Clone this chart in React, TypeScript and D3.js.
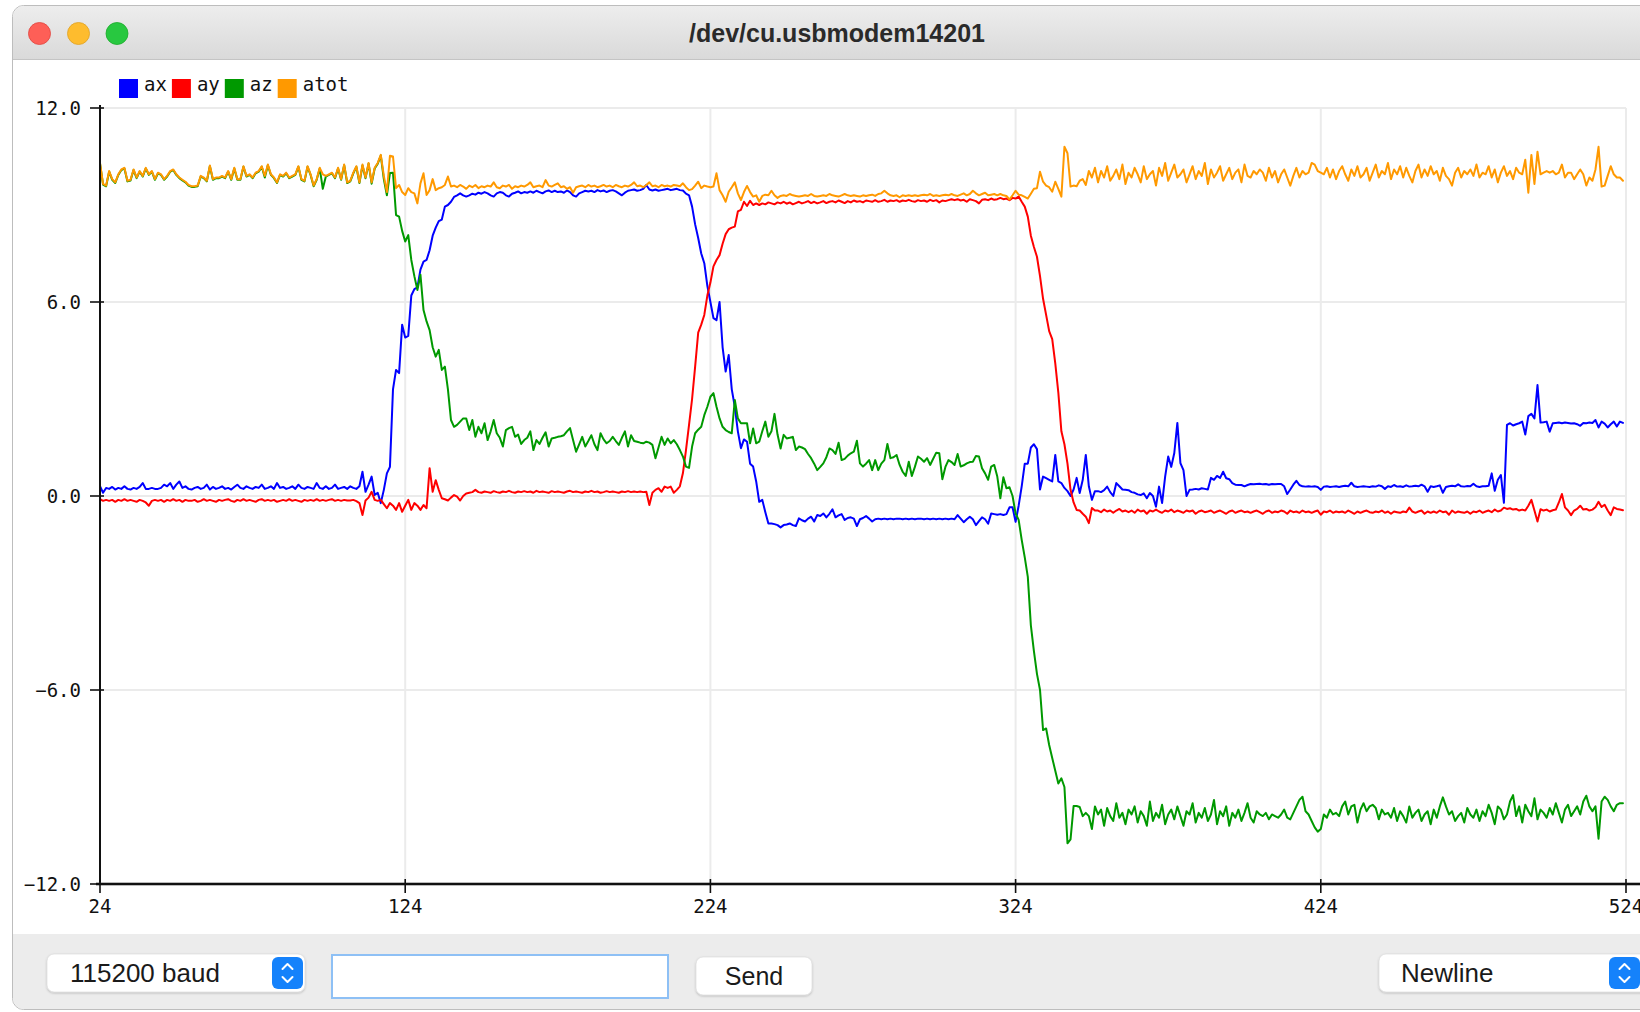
import React from 'react';
import * as d3 from 'd3';

// ---- data (sample index starts at 24, one value per sample) ----
const X_START = 24;
const X_TICKS = [24, 124, 224, 324, 424, 524];
const Y_TICKS = [12, 6, 0, -6, -12];
const SERIES_NAMES = ['ax', 'ay', 'az', 'atot'];
const TITLE = '/dev/cu.usbmodem14201';
const BAUD_LABEL = '115200 baud';
const SEND_LABEL = 'Send';
const LINE_ENDING_LABEL = 'Newline';

const AX = [
  0.30, 0.10, 0.25, 0.22, 0.28, 0.20, 0.25, 0.22, 0.30, 0.22,
  0.20, 0.25, 0.22, 0.28, 0.40, 0.22, 0.22, 0.25, 0.22, 0.22,
  0.25, 0.35, 0.30, 0.40, 0.22, 0.35, 0.45, 0.25, 0.30, 0.22,
  0.20, 0.25, 0.28, 0.22, 0.25, 0.35, 0.20, 0.28, 0.22, 0.25,
  0.30, 0.22, 0.25, 0.20, 0.28, 0.35, 0.25, 0.22, 0.30, 0.25,
  0.22, 0.28, 0.25, 0.35, 0.22, 0.25, 0.30, 0.22, 0.40, 0.25,
  0.28, 0.22, 0.25, 0.30, 0.22, 0.35, 0.25, 0.22, 0.28, 0.25,
  0.22, 0.40, 0.25, 0.22, 0.30, 0.22, 0.25, 0.35, 0.22, 0.25,
  0.28, 0.22, 0.30, 0.25, 0.22, 0.30, 0.75, 0.13, 0.35, 0.60,
  0.03, 0.10, -0.22, 0.19, 0.70, 0.90, 3.30, 3.90, 3.80, 5.30,
  4.90, 4.95, 6.20, 6.40, 6.45, 7.00, 7.25, 7.30, 7.60, 8.05,
  8.30, 8.50, 8.55, 8.95, 9.00, 9.10, 9.25, 9.30, 9.36, 9.30,
  9.26, 9.30, 9.35, 9.32, 9.38, 9.35, 9.40, 9.36, 9.30, 9.26,
  9.36, 9.40, 9.38, 9.30, 9.26, 9.35, 9.38, 9.42, 9.36, 9.40,
  9.38, 9.42, 9.38, 9.44, 9.40, 9.36, 9.42, 9.45, 9.40, 9.44,
  9.40, 9.42, 9.38, 9.45, 9.40, 9.30, 9.26, 9.36, 9.40, 9.44,
  9.42, 9.44, 9.40, 9.46, 9.42, 9.45, 9.40, 9.44, 9.46, 9.42,
  9.36, 9.30, 9.38, 9.44, 9.46, 9.48, 9.44, 9.46, 9.50, 9.62,
  9.48, 9.45, 9.48, 9.44, 9.46, 9.48, 9.50, 9.46, 9.48, 9.50,
  9.46, 9.45, 9.35, 9.30, 8.95, 8.40, 7.98, 7.50, 7.20, 6.50,
  6.00, 5.50, 5.44, 6.00, 4.60, 3.85, 4.36, 3.30, 2.76, 2.00,
  1.48, 1.75, 1.68, 1.00, 0.91, 0.45, -0.18, -0.12, -0.50, -0.85,
  -0.85, -0.87, -0.90, -0.97, -0.90, -0.88, -0.85, -0.90, -0.93, -0.69,
  -0.75, -0.79, -0.70, -0.64, -0.79, -0.59, -0.62, -0.54, -0.66, -0.55,
  -0.41, -0.66, -0.60, -0.56, -0.74, -0.68, -0.66, -0.70, -0.93, -0.72,
  -0.68, -0.62, -0.70, -0.79, -0.72, -0.70, -0.72, -0.70, -0.72, -0.70,
  -0.72, -0.70, -0.70, -0.72, -0.70, -0.72, -0.70, -0.72, -0.70, -0.70,
  -0.72, -0.70, -0.72, -0.70, -0.72, -0.70, -0.72, -0.70, -0.72, -0.70,
  -0.72, -0.59, -0.70, -0.81, -0.72, -0.64, -0.72, -0.90, -0.78, -0.66,
  -0.72, -0.86, -0.54, -0.56, -0.58, -0.56, -0.59, -0.56, -0.35, -0.35,
  -0.80, -0.30, 0.30, 1.00, 1.00, 1.50, 1.60, 1.45, 0.20, 0.60,
  0.55, 0.50, 0.45, 1.27, 0.45, 0.40, 0.25, 0.15, 0.00, 0.20,
  0.56, 0.09, 0.50, 1.27, 0.30, -0.12, 0.15, 0.15, 0.12, 0.18,
  0.29, 0.12, 0.00, 0.40, 0.30, 0.20, 0.19, 0.18, 0.12, 0.10,
  0.05, 0.03, 0.08, -0.07, 0.09, 0.00, -0.33, 0.29, -0.22, 0.60,
  1.22, 0.90, 1.33, 2.26, 1.02, 0.80, 0.00, 0.19, 0.20, 0.22,
  0.20, 0.24, 0.22, 0.20, 0.56, 0.50, 0.62, 0.56, 0.75, 0.55,
  0.52, 0.40, 0.35, 0.34, 0.34, 0.30, 0.34, 0.37, 0.36, 0.37,
  0.38, 0.36, 0.37, 0.35, 0.37, 0.36, 0.37, 0.37, 0.30, 0.06,
  0.20, 0.35, 0.47, 0.34, 0.30, 0.29, 0.30, 0.29, 0.30, 0.28,
  0.19, 0.29, 0.30, 0.28, 0.29, 0.30, 0.28, 0.30, 0.32, 0.30,
  0.41, 0.30, 0.28, 0.29, 0.30, 0.29, 0.28, 0.30, 0.29, 0.33,
  0.30, 0.22, 0.30, 0.28, 0.34, 0.29, 0.30, 0.28, 0.33, 0.29,
  0.30, 0.32, 0.30, 0.35, 0.30, 0.13, 0.30, 0.28, 0.30, 0.33,
  0.10, 0.28, 0.30, 0.32, 0.30, 0.36, 0.30, 0.29, 0.31, 0.30,
  0.38, 0.30, 0.28, 0.30, 0.30, 0.32, 0.70, 0.16, 0.50, 0.65,
  -0.21, 2.20, 2.25, 2.18, 2.22, 2.25, 2.30, 1.90, 2.47, 2.54,
  2.40, 3.43, 2.27, 2.28, 2.30, 1.99, 2.25, 2.26, 2.27, 2.25,
  2.27, 2.26, 2.24, 2.25, 2.22, 2.17, 2.26, 2.25, 2.27, 2.26,
  2.35, 2.12, 2.30, 2.24, 2.12, 2.22, 2.30, 2.15, 2.30, 2.26,
];

const AY = [
  -0.10, -0.15, -0.12, -0.15, -0.12, -0.18, -0.12, -0.15, -0.10, -0.15,
  -0.12, -0.15, -0.18, -0.12, -0.15, -0.20, -0.30, -0.15, -0.12, -0.15,
  -0.12, -0.18, -0.12, -0.15, -0.10, -0.15, -0.12, -0.18, -0.12, -0.15,
  -0.15, -0.12, -0.18, -0.15, -0.10, -0.15, -0.12, -0.15, -0.18, -0.12,
  -0.15, -0.12, -0.10, -0.15, -0.18, -0.12, -0.15, -0.10, -0.15, -0.12,
  -0.15, -0.18, -0.12, -0.10, -0.15, -0.12, -0.15, -0.12, -0.18, -0.15,
  -0.12, -0.15, -0.10, -0.15, -0.12, -0.15, -0.18, -0.12, -0.15, -0.12,
  -0.15, -0.10, -0.15, -0.12, -0.15, -0.12, -0.10, -0.15, -0.12, -0.15,
  -0.12, -0.14, -0.14, -0.12, -0.16, -0.22, -0.59, -0.14, -0.05, 0.13,
  -0.12, -0.15, -0.12, -0.25, -0.38, -0.22, -0.30, -0.43, -0.22, -0.49,
  -0.30, -0.12, -0.43, -0.22, -0.30, -0.43, -0.28, -0.38, 0.86, 0.13,
  0.49, 0.19, -0.07, -0.10, -0.14, -0.05, 0.03, -0.02, -0.14, 0.00,
  0.08, 0.10, 0.12, 0.19, 0.12, 0.10, 0.14, 0.12, 0.10, 0.15,
  0.12, 0.10, 0.14, 0.12, 0.16, 0.12, 0.10, 0.14, 0.12, 0.15,
  0.12, 0.14, 0.10, 0.16, 0.12, 0.14, 0.12, 0.10, 0.15, 0.12,
  0.14, 0.12, 0.10, 0.14, 0.16, 0.12, 0.14, 0.12, 0.10, 0.14,
  0.12, 0.16, 0.12, 0.14, 0.10, 0.12, 0.15, 0.12, 0.14, 0.12,
  0.10, 0.14, 0.12, 0.15, 0.12, 0.14, 0.12, 0.14, 0.12, 0.13,
  -0.28, 0.10, 0.19, 0.24, 0.13, 0.29, 0.25, 0.29, 0.10, 0.19,
  0.30, 0.71, 1.42, 2.20, 3.00, 4.00, 5.05, 5.30, 5.60, 6.20,
  6.60, 7.10, 7.30, 7.45, 7.80, 8.10, 8.25, 8.30, 8.33, 8.80,
  8.85, 9.10, 8.97, 9.13, 9.00, 9.05, 9.00, 9.05, 9.02, 9.08,
  9.05, 9.02, 9.08, 9.05, 9.10, 9.04, 9.08, 9.02, 9.06, 9.10,
  9.05, 9.08, 9.12, 9.06, 9.10, 9.05, 9.08, 9.12, 9.06, 9.10,
  9.12, 9.08, 9.14, 9.10, 9.06, 9.12, 9.08, 9.14, 9.10, 9.12,
  9.08, 9.14, 9.12, 9.10, 9.15, 9.10, 9.12, 9.16, 9.10, 9.14,
  9.12, 9.15, 9.10, 9.14, 9.12, 9.16, 9.12, 9.10, 9.15, 9.12,
  9.14, 9.10, 9.16, 9.12, 9.15, 9.08, 9.14, 9.12, 9.15, 9.18,
  9.15, 9.18, 9.14, 9.16, 9.10, 9.18, 9.15, 9.12, 9.05, 9.16,
  9.18, 9.15, 9.20, 9.16, 9.18, 9.22, 9.18, 9.20, 9.15, 9.22,
  9.20, 9.26, 9.10, 8.95, 8.64, 8.05, 7.70, 7.40, 6.80, 6.10,
  5.60, 5.10, 4.85, 4.10, 3.20, 2.00, 1.60, 1.00, 0.19, -0.20,
  -0.43, -0.45, -0.55, -0.64, -0.84, -0.37, -0.45, -0.45, -0.50, -0.42,
  -0.48, -0.45, -0.52, -0.45, -0.40, -0.48, -0.45, -0.50, -0.45, -0.52,
  -0.42, -0.48, -0.45, -0.55, -0.45, -0.48, -0.42, -0.48, -0.52, -0.45,
  -0.48, -0.42, -0.50, -0.45, -0.48, -0.52, -0.45, -0.48, -0.45, -0.55,
  -0.48, -0.45, -0.50, -0.48, -0.45, -0.52, -0.48, -0.45, -0.50, -0.55,
  -0.48, -0.45, -0.52, -0.48, -0.45, -0.50, -0.48, -0.52, -0.48, -0.45,
  -0.50, -0.55, -0.48, -0.45, -0.52, -0.48, -0.50, -0.45, -0.48, -0.55,
  -0.45, -0.50, -0.48, -0.52, -0.45, -0.50, -0.48, -0.52, -0.48, -0.45,
  -0.58, -0.48, -0.50, -0.45, -0.52, -0.48, -0.50, -0.48, -0.52, -0.45,
  -0.50, -0.55, -0.48, -0.52, -0.48, -0.45, -0.50, -0.52, -0.48, -0.50,
  -0.45, -0.52, -0.48, -0.55, -0.48, -0.50, -0.52, -0.48, -0.50, -0.36,
  -0.48, -0.52, -0.48, -0.45, -0.55, -0.48, -0.52, -0.48, -0.52, -0.45,
  -0.50, -0.48, -0.58, -0.45, -0.52, -0.48, -0.50, -0.52, -0.48, -0.55,
  -0.48, -0.50, -0.45, -0.52, -0.48, -0.45, -0.50, -0.42, -0.48, -0.45,
  -0.36, -0.40, -0.38, -0.42, -0.40, -0.45, -0.42, -0.45, -0.30, -0.12,
  -0.45, -0.79, -0.41, -0.45, -0.42, -0.48, -0.44, -0.42, -0.20, 0.06,
  -0.35, -0.45, -0.59, -0.45, -0.40, -0.30, -0.42, -0.40, -0.45, -0.42,
  -0.35, -0.18, -0.34, -0.27, -0.45, -0.59, -0.35, -0.40, -0.42, -0.44,
];

const AZ = [
  10.28, 9.63, 9.58, 10.03, 9.78, 9.68, 9.93, 10.08, 10.13, 9.73,
  9.76, 10.08, 9.83, 10.03, 9.88, 10.13, 9.93, 10.03, 9.78, 9.98,
  9.93, 9.78, 9.88, 10.03, 10.08, 9.93, 9.83, 9.76, 9.70, 9.60,
  9.56, 9.56, 9.58, 9.88, 9.83, 9.73, 10.20, 9.78, 9.83, 9.83,
  9.88, 9.83, 10.03, 9.78, 10.13, 9.78, 9.78, 10.18, 9.88, 9.93,
  9.83, 9.98, 10.03, 10.18, 9.85, 10.23, 9.93, 9.83, 9.68, 9.93,
  9.88, 9.98, 9.83, 9.88, 9.93, 10.18, 9.78, 9.73, 10.18, 9.93,
  9.58, 9.78, 10.13, 9.50, 9.88, 9.93, 9.98, 9.83, 10.13, 9.78,
  10.23, 9.68, 9.73, 9.98, 10.18, 9.68, 10.22, 9.83, 10.28, 9.66,
  10.13, 10.28, 10.53, 9.80, 9.30, 9.99, 10.00, 8.69, 8.64, 8.20,
  7.87, 8.07, 7.30, 6.80, 6.37, 6.84, 5.75, 5.40, 5.13, 4.60,
  4.31, 4.52, 3.90, 4.00, 3.30, 2.35, 2.14, 2.20, 2.30, 2.40,
  2.40, 2.04, 2.35, 1.83, 2.14, 1.94, 2.25, 1.73, 2.00, 2.35,
  1.94, 1.80, 1.53, 2.04, 2.10, 2.14, 1.83, 1.90, 1.61, 1.73,
  1.80, 2.00, 1.42, 1.73, 1.61, 1.80, 1.97, 1.53, 1.78, 1.80,
  1.83, 1.85, 1.88, 2.00, 2.10, 1.73, 1.37, 1.60, 1.83, 1.53,
  1.70, 1.88, 1.60, 1.42, 1.94, 1.75, 1.63, 1.70, 1.83, 1.70,
  1.58, 1.80, 2.00, 1.53, 1.88, 1.70, 1.68, 1.65, 1.63, 1.68,
  1.65, 1.58, 1.17, 1.50, 1.83, 1.58, 1.78, 1.63, 1.73, 1.60,
  1.42, 1.22, 0.91, 0.87, 1.53, 1.94, 2.05, 2.14, 2.50, 2.76,
  3.07, 3.18, 2.76, 2.40, 2.14, 2.04, 1.98, 1.94, 2.97, 2.40,
  2.25, 2.25, 2.25, 1.63, 2.09, 1.63, 1.68, 2.00, 2.30, 1.83,
  2.00, 2.54, 1.90, 1.47, 1.89, 1.78, 1.80, 1.83, 1.42, 1.53,
  1.50, 1.45, 1.30, 1.17, 1.00, 0.80, 0.90, 1.01, 1.20, 1.47,
  1.42, 1.30, 1.65, 1.11, 1.15, 1.25, 1.32, 1.37, 1.71, 1.01,
  0.91, 1.00, 1.11, 0.80, 1.11, 0.80, 1.00, 1.11, 1.61, 1.17,
  1.20, 1.27, 0.96, 0.75, 0.62, 1.06, 0.62, 0.90, 1.22, 1.15,
  1.06, 1.17, 0.96, 1.15, 1.34, 1.32, 0.52, 0.90, 1.11, 1.05,
  0.96, 1.30, 0.91, 0.95, 1.01, 1.05, 1.06, 1.24, 1.22, 0.86,
  0.70, 0.50, 0.91, 0.96, 0.60, -0.07, 0.58, 0.24, 0.27, 0.00,
  -0.54, -0.74, -1.36, -1.90, -2.50, -4.00, -4.80, -5.50, -6.00, -7.24,
  -7.19, -7.70, -8.10, -8.50, -8.89, -8.73, -9.00, -10.74, -10.62, -9.59,
  -9.59, -9.62, -9.90, -9.80, -9.90, -10.30, -9.60, -9.85, -9.70, -10.20,
  -9.65, -9.90, -10.05, -9.50, -9.95, -9.80, -10.15, -9.70, -9.85, -9.60,
  -10.10, -9.75, -9.90, -10.20, -9.45, -10.05, -9.80, -9.95, -9.55, -10.15,
  -9.85, -9.70, -10.00, -9.60, -9.90, -10.20, -9.75, -9.85, -9.50, -10.10,
  -9.80, -9.95, -9.65, -10.05, -9.85, -9.40, -10.15, -9.75, -9.90, -9.60,
  -10.20, -9.80, -9.95, -9.70, -10.05, -9.80, -9.50, -9.95, -10.10, -9.75,
  -9.85, -9.90, -9.80, -10.00, -9.85, -9.90, -9.95, -9.85, -9.70, -9.95,
  -10.00, -9.80, -9.60, -9.40, -9.30, -9.75, -9.85, -10.05, -10.25, -10.38,
  -10.30, -9.85, -9.95, -9.70, -9.85, -9.80, -9.90, -9.60, -9.45, -9.85,
  -9.60, -9.55, -10.10, -9.70, -9.50, -9.75, -9.60, -9.55, -9.65, -10.00,
  -9.70, -9.85, -9.80, -9.95, -9.65, -10.05, -9.75, -9.90, -10.10, -9.60,
  -9.95, -9.80, -9.70, -10.05, -9.85, -9.75, -10.15, -9.70, -9.95, -9.60,
  -9.32, -9.60, -9.85, -9.75, -10.05, -9.90, -9.80, -10.10, -9.65, -9.85,
  -9.95, -9.70, -10.05, -9.75, -9.90, -9.55, -9.80, -10.15, -9.60, -9.70,
  -10.00, -9.85, -9.45, -9.25, -9.90, -9.60, -10.10, -9.55, -9.75, -9.90,
  -9.35, -10.00, -9.70, -9.80, -9.95, -9.65, -9.85, -9.50, -9.80, -10.10,
  -9.70, -9.55, -9.90, -9.75, -9.60, -9.85, -9.45, -9.27, -9.60, -9.75,
  -9.60, -10.60, -9.45, -9.30, -9.40, -9.60, -9.75, -9.55, -9.50, -9.50,
];

const ATOT = [
  10.30, 9.65, 9.60, 10.05, 9.80, 9.70, 9.95, 10.10, 10.15, 9.75,
  9.78, 10.10, 9.85, 10.05, 9.90, 10.15, 9.95, 10.05, 9.80, 10.00,
  9.95, 9.80, 9.90, 10.05, 10.10, 9.95, 9.85, 9.78, 9.72, 9.62,
  9.58, 9.58, 9.60, 9.90, 9.85, 9.75, 10.22, 9.80, 9.85, 9.85,
  9.90, 9.85, 10.05, 9.80, 10.15, 9.80, 9.80, 10.20, 9.90, 9.95,
  9.85, 10.00, 10.05, 10.20, 9.90, 10.25, 9.95, 9.85, 9.70, 9.95,
  9.90, 10.00, 9.85, 9.90, 9.95, 10.20, 9.80, 9.75, 10.20, 9.95,
  9.60, 9.80, 10.15, 9.95, 9.90, 9.95, 10.00, 9.85, 10.15, 9.80,
  10.25, 9.70, 9.75, 10.00, 10.20, 9.70, 10.25, 9.85, 10.30, 9.70,
  10.15, 10.30, 10.55, 9.90, 9.40, 10.52, 10.50, 9.52, 9.62, 9.40,
  9.31, 9.52, 9.40, 9.36, 9.05, 9.67, 9.98, 9.31, 9.46, 9.80,
  9.46, 9.52, 9.55, 9.62, 9.88, 9.57, 9.60, 9.55, 9.62, 9.57,
  9.50, 9.60, 9.55, 9.62, 9.52, 9.58, 9.55, 9.60, 9.57, 9.70,
  9.55, 9.52, 9.60, 9.57, 9.62, 9.50, 9.58, 9.55, 9.60, 9.57,
  9.62, 9.70, 9.55, 9.58, 9.60, 9.55, 9.77, 9.60, 9.57, 9.62,
  9.67, 9.55, 9.58, 9.50, 9.55, 9.38, 9.55, 9.58, 9.60, 9.55,
  9.62, 9.57, 9.60, 9.55, 9.58, 9.62, 9.57, 9.60, 9.55, 9.62,
  9.58, 9.55, 9.60, 9.57, 9.62, 9.70, 9.58, 9.60, 9.55, 9.62,
  9.70, 9.58, 9.60, 9.55, 9.62, 9.58, 9.60, 9.57, 9.62, 9.60,
  9.58, 9.67, 9.55, 9.46, 9.49, 9.60, 9.72, 9.52, 9.60, 9.57,
  9.55, 9.57, 9.98, 9.46, 9.30, 9.10, 9.41, 9.55, 9.70, 9.36,
  9.15, 9.40, 9.59, 9.40, 9.26, 9.30, 9.10, 9.28, 9.32, 9.30,
  9.44, 9.30, 9.22, 9.28, 9.30, 9.28, 9.34, 9.30, 9.28, 9.26,
  9.28, 9.30, 9.28, 9.34, 9.28, 9.26, 9.28, 9.30, 9.28, 9.34,
  9.30, 9.28, 9.26, 9.30, 9.34, 9.30, 9.28, 9.30, 9.28, 9.26,
  9.30, 9.28, 9.30, 9.32, 9.28, 9.34, 9.36, 9.44, 9.36, 9.30,
  9.28, 9.30, 9.24, 9.30, 9.28, 9.30, 9.28, 9.30, 9.28, 9.30,
  9.32, 9.30, 9.34, 9.28, 9.30, 9.28, 9.30, 9.32, 9.30, 9.34,
  9.30, 9.28, 9.32, 9.36, 9.30, 9.34, 9.44, 9.36, 9.30, 9.34,
  9.38, 9.30, 9.32, 9.34, 9.30, 9.34, 9.30, 9.28, 9.17, 9.30,
  9.44, 9.32, 9.30, 9.25, 9.20, 9.35, 9.50, 9.52, 10.03, 9.72,
  9.60, 9.55, 9.41, 9.72, 9.50, 9.26, 10.80, 10.60, 9.57, 9.60,
  9.58, 9.75, 9.80, 9.62, 10.05, 9.85, 10.15, 9.70, 10.05, 9.85,
  10.20, 9.75, 9.90, 10.10, 9.80, 10.25, 9.65, 10.00, 9.85, 10.15,
  9.95, 9.70, 10.20, 9.80, 9.95, 10.05, 9.60, 10.15, 9.90, 10.30,
  9.75, 10.00, 10.25, 9.85, 9.95, 10.10, 9.70, 9.95, 10.20, 9.80,
  10.05, 9.90, 10.30, 9.65, 10.10, 9.85, 10.00, 10.20, 9.75, 9.95,
  10.15, 9.80, 10.00, 10.10, 9.70, 10.25, 9.90, 9.85, 10.05, 9.95,
  10.10, 10.00, 9.75, 10.15, 9.85, 10.05, 9.70, 9.95, 10.10, 9.85,
  9.60, 9.90, 10.15, 9.85, 10.05, 9.95, 10.00, 10.30, 10.25, 10.05,
  10.00, 9.95, 10.15, 9.85, 10.10, 9.80, 10.05, 10.20, 9.95, 9.75,
  10.10, 9.90, 10.20, 9.85, 9.95, 10.15, 9.75, 10.00, 10.25, 9.85,
  10.05, 9.95, 10.30, 9.80, 10.10, 9.95, 10.20, 9.85, 10.15, 9.90,
  9.70, 10.05, 10.25, 9.85, 10.10, 9.90, 10.20, 9.95, 10.05, 9.75,
  10.15, 9.90, 9.80, 9.60, 10.00, 10.15, 9.85, 10.05, 9.95, 10.10,
  9.90, 10.25, 9.85, 10.00, 9.95, 10.20, 9.85, 10.10, 9.70, 10.00,
  10.20, 9.90, 10.05, 9.80, 10.15, 10.00, 9.95, 10.40, 9.38, 10.55,
  9.65, 10.65, 9.95, 10.00, 10.05, 10.00, 10.05, 9.95, 10.00, 10.25,
  9.85, 10.00, 10.00, 9.80, 9.95, 10.10, 9.95, 9.60, 9.85, 9.75,
  10.10, 10.80, 9.57, 9.60, 9.90, 10.20, 9.95, 9.85, 9.85, 9.75,
];

const SERIES_VALUES = [AX, AY, AZ, ATOT];

// ---- styles ----
const COLORS = ['#0000ff', '#ff0000', '#009900', '#ff9900'];
const MONO = "'DejaVu Sans Mono', monospace";
const SANS = "'Liberation Sans', Arial, sans-serif";

const W = 1640;
const H = 1012;

function Stepper({ x, y, w, h }: { x: number; y: number; w: number; h: number }) {
  const cx = x + w / 2;
  const cy = y + h / 2;
  return (
    <g>
      <rect x={x} y={y} width={w} height={h} rx={6} fill="#1582fb" />
      <path d={`M${cx - 5},${cy - 4} L${cx},${cy - 9} L${cx + 5},${cy - 4}`} fill="none" stroke="#fff" strokeWidth={2} strokeLinecap="round" strokeLinejoin="round" />
      <path d={`M${cx - 5},${cy + 4} L${cx},${cy + 9} L${cx + 5},${cy + 4}`} fill="none" stroke="#fff" strokeWidth={2} strokeLinecap="round" strokeLinejoin="round" />
    </g>
  );
}

export default function App() {
  const x = d3.scaleLinear().domain([24, 524]).range([100, 1626]);
  const y = d3.scaleLinear().domain([-12, 12]).range([884, 108]);
  const fmt = d3.format('.1f');

  const line = d3
    .line<number>()
    .x((_, i) => x(X_START + i))
    .y((d) => y(d));

  const charW = 11.45;
  let lx = 119;
  const legend = SERIES_NAMES.map((name, i) => {
    const item = { name, color: COLORS[i], x: lx };
    lx += 19 + 6 + name.length * charW + 5;
    return item;
  });

  return (
    <svg
      width={W}
      height={H}
      viewBox={`0 0 ${W} ${H}`}
      style={{ position: 'fixed', left: 0, top: 0, background: '#fff' }}
    >
      <defs>
        <linearGradient id="titlebar" x1="0" y1="0" x2="0" y2="1">
          <stop offset="0" stopColor="#ededed" />
          <stop offset="1" stopColor="#d9d9d9" />
        </linearGradient>
        <filter id="btnshadow" x="-10%" y="-30%" width="120%" height="160%">
          <feDropShadow dx="0" dy="1" stdDeviation="1" floodColor="#000" floodOpacity="0.22" />
        </filter>
        <clipPath id="win">
          <rect x={13} y={6} width={1700} height={1003} rx={11} />
        </clipPath>
      </defs>

      {/* window frame */}
      <rect x={12.5} y={5.5} width={1700} height={1004} rx={11} fill="#fff" stroke="#bdbdbd" strokeWidth={1} />
      <g clipPath="url(#win)">
        <rect x={13} y={6} width={1700} height={54} fill="url(#titlebar)" />
        <line x1={13} x2={1700} y1={59.5} y2={59.5} stroke="#c4c4c4" strokeWidth={1} />
        <rect x={13} y={60} width={1700} height={874} fill="#fff" />
        <rect x={13} y={934} width={1700} height={80} fill="#ececec" />
      </g>

      {/* traffic lights */}
      <circle cx={39.5} cy={33.5} r={11} fill="#fe5f57" stroke="#e0443e" strokeWidth={0.8} />
      <circle cx={78.5} cy={33.5} r={11} fill="#febc2e" stroke="#dea123" strokeWidth={0.8} />
      <circle cx={117} cy={33.5} r={11} fill="#28c840" stroke="#1aab29" strokeWidth={0.8} />

      <text x={837} y={42} textAnchor="middle" fontFamily={SANS} fontWeight="bold" fontSize={25} fill="#2a2a2a">
        {TITLE}
      </text>

      {/* legend */}
      {legend.map((l) => (
        <g key={l.name}>
          <rect x={l.x} y={79} width={19} height={19} fill={l.color} />
          <text x={l.x + 25} y={91} fontFamily={MONO} fontSize={19} fill="#111">
            {l.name}
          </text>
        </g>
      ))}

      {/* grid */}
      {Y_TICKS.filter((t) => t !== -12).map((t) => (
        <line key={`gy${t}`} x1={x(24)} x2={x(524)} y1={y(t)} y2={y(t)} stroke="#ebebeb" strokeWidth={2} />
      ))}
      {X_TICKS.filter((t) => t !== 24).map((t) => (
        <line key={`gx${t}`} x1={x(t)} x2={x(t)} y1={y(12)} y2={y(-12)} stroke="#ebebeb" strokeWidth={2} />
      ))}

      {/* series */}
      {SERIES_VALUES.map((vals, i) => (
        <path
          key={SERIES_NAMES[i]}
          d={line(vals) || ''}
          fill="none"
          stroke={COLORS[i]}
          strokeWidth={2}
          strokeLinejoin="round"
          strokeLinecap="round"
        />
      ))}

      {/* axes */}
      <line x1={x(24)} x2={x(24)} y1={y(12) - 3} y2={y(-12)} stroke="#111" strokeWidth={2} />
      <line x1={x(24) - 4} x2={W} y1={y(-12)} y2={y(-12)} stroke="#777" strokeWidth={4} opacity={0.5} />
      <line x1={x(24) - 4} x2={W} y1={y(-12)} y2={y(-12)} stroke="#111" strokeWidth={2} />
      {Y_TICKS.map((t) => (
        <g key={`yt${t}`}>
          <line x1={x(24) - 10} x2={x(24) + 4} y1={y(t)} y2={y(t)} stroke="#111" strokeWidth={1.6} />
          <text x={81} y={y(t)} dy="0.36em" textAnchor="end" fontFamily={MONO} fontSize={19} fill="#111">
            {fmt(t)}
          </text>
        </g>
      ))}
      {X_TICKS.map((t) => (
        <g key={`xt${t}`}>
          <line x1={x(t)} x2={x(t)} y1={y(-12) - 5} y2={y(-12) + 9} stroke="#111" strokeWidth={1.6} />
          <text x={x(t)} y={913} textAnchor="middle" fontFamily={MONO} fontSize={19} fill="#111">
            {t}
          </text>
        </g>
      ))}

      {/* bottom controls */}
      <g filter="url(#btnshadow)">
        <rect x={47} y={954} width={258} height={38} rx={7} fill="#fff" stroke="#d6d6d6" strokeWidth={0.6} />
        <rect x={696} y={957} width={116} height={38} rx={7} fill="#fff" stroke="#d6d6d6" strokeWidth={0.6} />
        <rect x={1379} y={954} width={300} height={38} rx={7} fill="#fff" stroke="#d6d6d6" strokeWidth={0.6} />
      </g>
      <Stepper x={272} y={957} w={31} h={32} />
      <Stepper x={1609} y={957} w={31} h={32} />
      <text x={70} y={982} fontFamily={SANS} fontSize={26} fill="#1a1a1a">
        {BAUD_LABEL}
      </text>
      <rect x={332} y={955} width={336} height={43} fill="#fff" stroke="#8ec0f5" strokeWidth={2} />
      <text x={754} y={985} textAnchor="middle" fontFamily={SANS} fontSize={25} fill="#1a1a1a">
        {SEND_LABEL}
      </text>
      <text x={1401} y={982} fontFamily={SANS} fontSize={26} fill="#1a1a1a">
        {LINE_ENDING_LABEL}
      </text>
    </svg>
  );
}
